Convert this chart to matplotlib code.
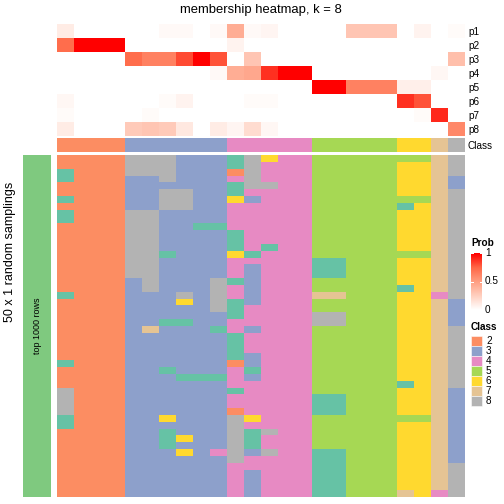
"""Membership heatmap (k = 8): per-column class probabilities on top,
50 x 1 random samplings of class labels underneath."""

import matplotlib

matplotlib.use("Agg")
import matplotlib.pyplot as plt  # noqa: E402
import numpy as np  # noqa: E402
from matplotlib.colors import LinearSegmentedColormap, ListedColormap  # noqa: E402
from matplotlib.patches import Rectangle  # noqa: E402

plt.rcParams["font.family"] = ["Liberation Sans", "DejaVu Sans"]

# class of each column (consensus)
column_class = [2, 2, 2, 2, 3, 3, 3, 3, 3, 3, 4, 4, 4, 4, 4,
                5, 5, 5, 5, 5, 6, 6, 7, 8]

prob_labels = ["p1", "p2", "p3", "p4", "p5", "p6", "p7", "p8"]
p1 = [0.1, 0, 0, 0, 0, 0, 0.03, 0.03, 0, 0.03, 0.42, 0.03, 0.05, 0, 0,
      0, 0, 0.3, 0.3, 0.3, 0, 0.06, 0, 0.02]
p2 = [0.72, 1, 1, 1, 0, 0, 0, 0, 0, 0, 0.06, 0, 0, 0, 0,
      0, 0, 0, 0, 0, 0, 0, 0, 0]
p3 = [0, 0, 0, 0, 0.72, 0.63, 0.63, 0.82, 1, 0.8, 0, 0.3, 0, 0, 0,
      0, 0, 0, 0, 0, 0, 0, 0, 0.33]
p4 = [0, 0, 0, 0, 0, 0, 0, 0, 0, 0.03, 0.42, 0.45, 0.88, 1, 1,
      0, 0, 0, 0, 0, 0, 0, 0.04, 0]
p5 = [0, 0, 0, 0, 0, 0, 0, 0, 0, 0, 0, 0, 0, 0, 0,
      1, 1, 0.63, 0.63, 0.63, 0.08, 0.08, 0, 0]
p6 = [0.04, 0, 0, 0, 0, 0, 0.02, 0.06, 0, 0, 0, 0.02, 0.02, 0, 0,
      0, 0, 0, 0, 0, 0.88, 0.8, 0, 0]
p7 = [0.02, 0, 0, 0, 0, 0.02, 0, 0, 0, 0, 0, 0, 0, 0, 0,
      0, 0, 0, 0, 0, 0, 0.02, 0.9, 0]
p8 = [0.1, 0, 0, 0, 0.27, 0.3, 0.27, 0.12, 0, 0.1, 0.05, 0.18, 0.04, 0, 0,
      0, 0, 0, 0, 0, 0, 0, 0, 0.6]

# one string per sampling, one digit (class label) per column
samplings = [
    "2222 888333 18644 55555 55 7 8",
    "2222 888333 18444 55555 66 7 8",
    "1222 888333 28444 55555 66 7 8",
    "1222 338333 48444 55555 66 7 3",
    "2222 333333 18844 55555 66 7 3",
    "2222 338833 14444 55555 66 7 8",
    "1222 338833 63444 55555 55 7 8",
    "2222 338833 44444 55555 16 7 8",
    "1222 883333 44444 55555 66 7 8",
    "1222 883333 44444 55555 66 7 8",
    "2222 883311 44444 55555 66 7 8",
    "2222 883333 14444 55555 66 7 8",
    "2222 883333 14444 55555 66 7 8",
    "2222 883333 14144 55555 66 7 8",
    "2222 881333 61444 55555 55 7 8",
    "2222 883333 44444 11555 66 7 8",
    "2222 883333 43444 11555 66 7 8",
    "2222 883333 43444 11555 66 7 8",
    "2222 383338 13444 55555 66 7 8",
    "2222 383338 43444 55555 16 7 8",
    "1222 333838 43444 77555 66 4 8",
    "2222 333638 13444 55555 66 7 3",
    "2222 333338 14444 55555 66 7 3",
    "2222 333333 14444 88555 66 7 3",
    "2222 331133 44444 88555 66 7 3",
    "2222 373331 43444 55555 66 7 8",
    "2222 333333 14444 55555 66 7 8",
    "2222 333333 14444 55555 66 7 8",
    "2222 333333 14444 55555 66 7 8",
    "2222 333333 13444 55555 66 7 8",
    "1222 333333 23444 55555 66 7 8",
    "2222 331333 41444 55555 66 7 8",
    "2222 333111 43444 55555 66 7 8",
    "2222 333333 44444 55555 16 7 8",
    "8222 333333 14444 55555 66 7 3",
    "8222 333333 44444 11555 66 7 3",
    "8222 333333 44444 11555 66 7 3",
    "8222 333333 24444 11555 66 7 3",
    "1222 336333 86444 55555 55 7 3",
    "1222 333333 84444 55555 66 7 3",
    "2222 331333 81844 55555 66 7 3",
    "2222 331633 81444 55555 66 7 3",
    "2222 331333 81444 55555 66 7 3",
    "2222 333634 83844 11555 66 7 3",
    "2222 333333 84444 11555 66 7 3",
    "2222 333333 44444 11555 66 7 8",
    "2222 333333 43444 11555 66 7 8",
    "2222 333333 43444 11555 66 7 8",
    "2222 333333 43444 11555 66 7 8",
    "2222 333333 43444 11555 76 4 8",
]

legend_classes = [2, 3, 4, 5, 6, 7, 8]
prob_ticks = [0, 0.5, 1]

# Set2 palette, index = class label
class_colors = ["#FFFFFF", "#66C2A5", "#FC8D62", "#8DA0CB", "#E78AC3",
                "#A6D854", "#FFD92F", "#E5C494", "#B3B3B3"]
class_cmap = ListedColormap(class_colors)
# white -> red, interpolated in LAB like circlize::colorRamp2
prob_cmap = LinearSegmentedColormap.from_list(
    "prob", [(0, "#FFFFFF"), (0.25, "#FFCFBF"), (0.5, "#FF9E81"),
             (0.75, "#FF6746"), (1, "#FF0000")])

W = H = 504
fig = plt.figure(figsize=(W / 72, H / 72), dpi=72)


def px_axes(x0, y0, x1, y1):
    """Axes from pixel box (top-left origin)."""
    ax = fig.add_axes([x0 / W, 1 - y1 / H, (x1 - x0) / W, (y1 - y0) / H])
    for s in ax.spines.values():
        s.set_visible(False)
    return ax


X0, X1 = 57, 465

# probability rows
prob = np.array([p1, p2, p3, p4, p5, p6, p7, p8])
ax = px_axes(X0, 24, X1, 136)
ax.imshow(prob, cmap=prob_cmap, vmin=0, vmax=1, aspect="auto",
          interpolation="nearest")
ax.set_xticks([])
ax.yaxis.tick_right()
ax.set_yticks(range(len(prob_labels)))
ax.set_yticklabels(prob_labels, fontsize=10)
ax.tick_params(axis="y", length=0, pad=3)

# class bar
ax = px_axes(X0, 138, X1, 152)
ax.imshow(np.array([column_class]), cmap=class_cmap, vmin=0, vmax=8,
          aspect="auto", interpolation="nearest")
ax.set_xticks([])
ax.yaxis.tick_right()
ax.set_yticks([0])
ax.set_yticklabels(["Class"], fontsize=10)
ax.tick_params(axis="y", length=0, pad=3)

# sampled memberships
mat = np.array([[int(c) for c in row.replace(" ", "")] for row in samplings])
ax = px_axes(X0, 155, X1, 497)
ax.imshow(mat, cmap=class_cmap, vmin=0, vmax=8, aspect="auto",
          interpolation="nearest")
ax.set_xticks([])
ax.set_yticks([])

# row split annotation on the left
ax = px_axes(23, 155, 51, 497)
ax.set_facecolor("#7FC97F")
ax.set_xticks([])
ax.set_yticks([])
ax.text(0.5, 0.5, "top 1000 rows", rotation=90, ha="center", va="center",
        fontsize=9, transform=ax.transAxes)

fig.text(10 / W, 1 - 252 / H, "50 x 1 random samplings", rotation=90,
         ha="center", va="center", fontsize=12.5)
fig.text(261 / W, 1 - 10 / H, "membership heatmap, k = 8", ha="center",
         va="center", fontsize=13)

# Prob legend
fig.text(471 / W, 1 - 243 / H, "Prob", fontsize=10, fontweight="bold",
         va="center")
ax = px_axes(471, 253, 482, 310)
grad = np.linspace(1, 0, 100)[:, None]
ax.imshow(grad, cmap=prob_cmap, vmin=0, vmax=1, aspect="auto",
          extent=[0, 1, 0, 1])
ax.set_xlim(0, 1)
ax.set_ylim(0, 1)
ax.set_xticks([])
ax.set_yticks([])
for t in prob_ticks:
    ax.plot([0, 0.2], [t, t], color="white", lw=1)
    ax.plot([0.8, 1], [t, t], color="white", lw=1)
    fig.text(485 / W, 1 - (310 - 57 * t) / H, f"{t:g}", fontsize=10,
             va="center")

# Class legend
fig.text(471 / W, 1 - 327 / H, "Class", fontsize=10, fontweight="bold",
         va="center")
for i, c in enumerate(legend_classes):
    y = 336 + 10 * i
    fig.patches.append(Rectangle((471 / W, 1 - (y + 10) / H), 11 / W, 10 / H,
                                 transform=fig.transFigure,
                                 facecolor=class_colors[c], edgecolor="white",
                                 lw=0.5))
    fig.text(486 / W, 1 - (y + 5) / H, str(c), fontsize=10, va="center")

fig.savefig("out.png", dpi=72)
